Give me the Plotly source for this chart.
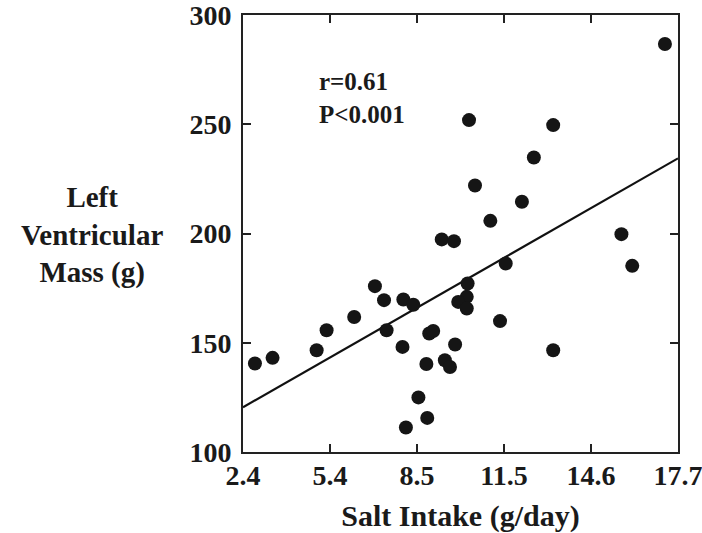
import numpy as np
import plotly.graph_objects as go

# Data
salt_intake = [2.82, 3.44, 4.99, 5.34, 6.31, 7.04, 7.36, 8.04, 8.39, 7.45,
               8.01, 8.85, 8.57, 8.88, 8.13, 8.95, 9.09, 9.86, 9.50, 9.68,
               10.30, 10.27, 9.97, 10.27, 11.64, 11.44, 13.31, 16.09, 15.71,
               17.24, 10.35, 13.31, 12.63, 10.56, 12.21, 11.10, 9.39, 9.82]
lv_mass = [140.5, 143.1, 146.6, 155.7, 161.8, 175.9, 169.5, 169.8, 167.4, 155.7,
           148.1, 140.3, 125.0, 115.6, 111.2, 154.2, 155.4, 149.2, 142.0, 138.9,
           177.1, 171.0, 168.7, 165.7, 186.3, 159.9, 146.6, 185.2, 199.7,
           286.7, 251.9, 249.6, 234.8, 222.0, 214.5, 205.8, 197.3, 196.5]

fit_x = [2.4, 17.7]
fit_y = [120.5, 234.4]

x_tick_labels = ["2.4", "5.4", "8.5", "11.5", "14.6", "17.7"]
y_tick_values = [100, 150, 200, 250, 300]
x_range = [2.4, 17.7]
y_range = [100, 300]

FONT = "Liberation Serif, Times New Roman, serif"

fig = go.Figure()
fig.add_trace(go.Scatter(x=fit_x, y=fit_y, mode="lines",
                         line=dict(color="#111111", width=2.2),
                         showlegend=False, hoverinfo="skip"))
fig.add_trace(go.Scatter(x=salt_intake, y=lv_mass, mode="markers",
                         marker=dict(color="#151515", size=14, line=dict(width=0)),
                         showlegend=False))

x_tick_vals = list(np.linspace(x_range[0], x_range[1], len(x_tick_labels)))

axis_common = dict(showline=True, linecolor="#222222", linewidth=2, mirror="allticks",
                   ticks="inside", ticklen=8, tickwidth=2, tickcolor="#222222",
                   showgrid=False, zeroline=False, automargin=False,
                   ticklabeloverflow="allow",
                   tickfont=dict(family=FONT, size=28, color="#1a1a1a", weight="bold"))

fig.update_xaxes(range=x_range, tickvals=x_tick_vals, ticktext=x_tick_labels,
                 ticklabelstandoff=-3,
                 title=dict(text="Salt Intake (g/day)", standoff=15,
                            font=dict(family=FONT, size=30, color="#1a1a1a", weight="bold")),
                 **axis_common)
fig.update_yaxes(range=y_range, tickvals=y_tick_values,
                 ticklabelstandoff=4, **axis_common)

fig.add_annotation(xref="paper", yref="paper", x=-0.347, y=0.497,
                   xanchor="center", yanchor="middle", showarrow=False,
                   text="Left<br>Ventricular<br>Mass (g)", align="center",
                   font=dict(family=FONT, size=29, color="#1a1a1a", weight="bold"))

fig.add_annotation(xref="x", yref="y", x=5.0, y=262.2,
                   xanchor="left", yanchor="middle", showarrow=False,
                   text="r=0.61<br>P<0.001", align="left",
                   font=dict(family=FONT, size=25, color="#1a1a1a", weight="bold"))

fig.update_layout(width=702, height=533,
                  margin=dict(l=243, r=24, t=15, b=81),
                  plot_bgcolor="white", paper_bgcolor="white")

fig.write_html("out.html", config={"displayModeBar": False},
               post_script="document.body.style.margin='0';document.body.style.overflow='hidden';")
